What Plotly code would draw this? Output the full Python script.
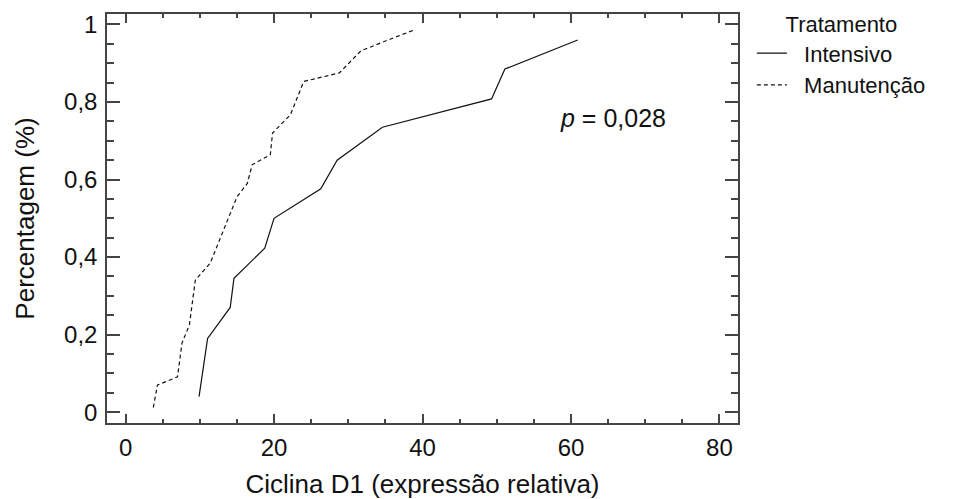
import plotly.graph_objects as go

# Cumulative distribution of Ciclina D1 expression by treatment group
intensivo_x = [9.9, 11.05, 14.1, 14.6, 18.75, 20.0, 26.3, 28.5, 34.6, 49.3, 51.1, 60.9]
intensivo_y = [0.04, 0.19, 0.27, 0.345, 0.423, 0.50, 0.576, 0.65, 0.735, 0.808, 0.885, 0.96]

manutencao_x = [3.74, 4.3, 7.0, 7.6, 8.6, 9.4, 11.4, 14.6, 15.0, 16.4, 17.05,
                19.5, 19.8, 22.2, 24.0, 28.8, 31.7, 35.1, 38.9]
manutencao_y = [0.012, 0.07, 0.091, 0.178, 0.225, 0.341, 0.384, 0.535, 0.555, 0.59, 0.638,
                0.664, 0.72, 0.767, 0.853, 0.875, 0.932, 0.958, 0.986]

p_label = "<i>p</i> = 0,028"

FONT = "Liberation Sans, Arial, sans-serif"
INK = "#111111"
FRAME = "#444444"
PAD = "\u00a0\u00a0"  # extra gap between legend sample and its label

fig = go.Figure()
fig.add_trace(go.Scatter(
    x=intensivo_x, y=intensivo_y, mode="lines", name=PAD + "Intensivo",
    line=dict(color=INK, width=1.2),
))
fig.add_trace(go.Scatter(
    x=manutencao_x, y=manutencao_y, mode="lines", name=PAD + "Manutenção",
    line=dict(color=INK, width=1.2, dash="4px,3px"),
))

fig.add_annotation(
    x=65.6, y=0.76, xref="x", yref="y", text=p_label, showarrow=False,
    font=dict(family=FONT, size=25, color=INK),
)

axis_common = dict(
    showline=True, linecolor=FRAME, linewidth=1.5, mirror="allticks",
    ticks="inside", tickcolor=FRAME, tickwidth=1.5,
    showgrid=False, zeroline=False, automargin=False,
    tickfont=dict(family=FONT, size=24, color=INK),
)

fig.update_xaxes(
    **axis_common,
    range=[-2.5, 82.5], tick0=0, dtick=20, ticklen=9,
    minor=dict(dtick=5, tick0=0, ticks="inside", ticklen=4.5, tickcolor=FRAME, tickwidth=1.5),
    ticklabelstandoff=2,
    title=dict(text="Ciclina D1 (expressão relativa)",
               font=dict(family=FONT, size=26, color=INK), standoff=22),
)
fig.update_yaxes(
    **axis_common,
    range=[-0.028, 1.027], tick0=0, dtick=0.2, ticklen=13,
    minor=dict(dtick=0.05, tick0=0, ticks="inside", ticklen=7, tickcolor=FRAME, tickwidth=1.5),
    ticklabelstandoff=3,
    title=dict(text="Percentagem (%)",
               font=dict(family=FONT, size=26, color=INK), standoff=22),
)

fig.update_layout(
    width=963, height=499,
    margin=dict(l=107, r=225, t=14, b=76, autoexpand=False),
    paper_bgcolor="white", plot_bgcolor="white",
    separators=",.",
    font=dict(family=FONT, color=INK),
    legend=dict(
        x=1.022, y=1.025, xanchor="left", yanchor="top",
        title=dict(text="Tratamento", side="top center",
                   font=dict(family=FONT, size=22, color=INK)),
        font=dict(family=FONT, size=22, color=INK),
        bgcolor="rgba(0,0,0,0)",
    ),
)

fig.write_html("out.html")
